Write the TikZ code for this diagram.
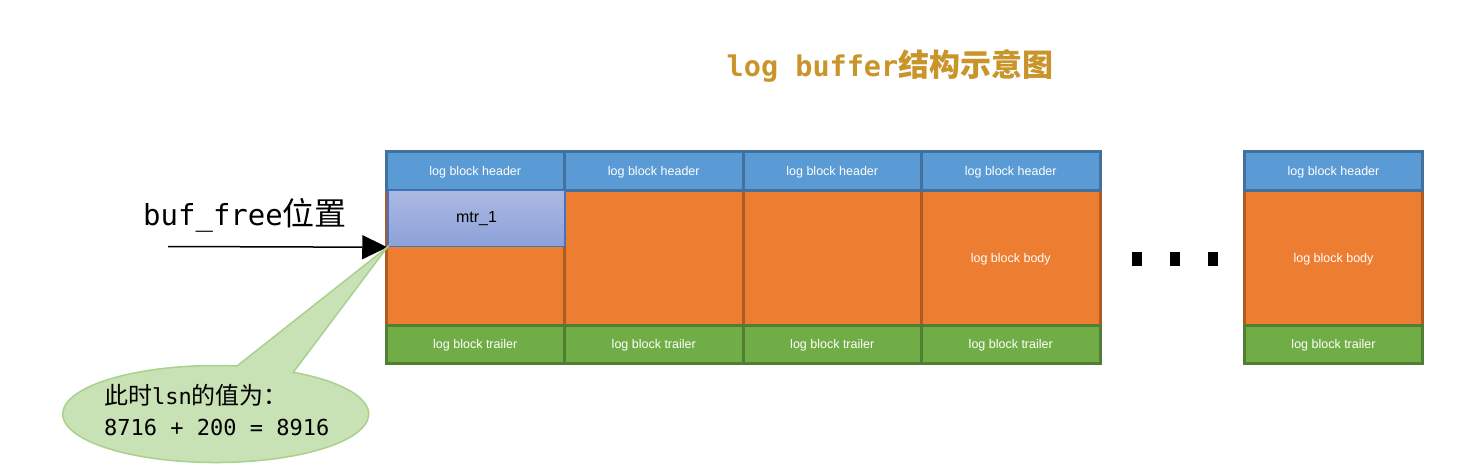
\documentclass[tikz,border=0pt]{standalone}
\usepackage{fontspec}
\setmainfont{Liberation Sans}
\newfontfamily\cjk{Noto Sans CJK SC}
\newfontfamily\mono{DejaVu Sans Mono}
\usetikzlibrary{arrows.meta,positioning}
\definecolor{hdrfill}{HTML}{5B9BD5}\definecolor{hdrline}{HTML}{41719C}
\definecolor{bodyfill}{HTML}{ED7D31}\definecolor{bodyline}{HTML}{AE5A21}
\definecolor{trlfill}{HTML}{70AD47}\definecolor{trlline}{HTML}{507E32}
\definecolor{mtrtop}{HTML}{ABB9E2}\definecolor{mtrbot}{HTML}{8DA1D9}\definecolor{mtrline}{HTML}{4472C4}
\definecolor{notefill}{HTML}{C8E2B6}\definecolor{noteline}{HTML}{A9D18E}
\definecolor{titlegold}{HTML}{C9952B}

\begin{document}
\begin{tikzpicture}[x=1pt,y=-1pt,
	cell/.style={draw,line width=3pt,inner sep=0pt,minimum width=178.5pt,text=white,text depth=0pt,font=\fontsize{12.5}{14}\selectfont},
	hdr/.style={cell,fill=hdrfill,draw=hdrline,minimum height=39pt},
	bdy/.style={cell,fill=bodyfill,draw=bodyline,minimum height=135pt},
	trl/.style={cell,fill=trlfill,draw=trlline,minimum height=38pt},
	dotbox/.style={fill=black,inner sep=0pt,minimum width=10pt,minimum height=14pt}]
			\useasboundingbox (0,0) rectangle (1470,474);
			
			% title
			\node[text=titlegold] (title) at (890,66) {\bfseries{\mono\fontsize{28.5}{30}\selectfont log buffer}{\cjk\fontsize{31}{32}\selectfont 结构示意图}};
			
			% log blocks
			\node[bdy] (b1) at (475.25,257.5) {}; \node[hdr] (h1) at (475.25,170.5) {log block header}; \node[trl] (t1) at (475.25,344) {log block trailer};
			\node[bdy] (b2) at (653.75,257.5) {}; \node[hdr] (h2) at (653.75,170.5) {log block header}; \node[trl] (t2) at (653.75,344) {log block trailer};
			\node[bdy] (b3) at (832.25,257.5) {}; \node[hdr] (h3) at (832.25,170.5) {log block header}; \node[trl] (t3) at (832.25,344) {log block trailer};
			\node[bdy] (b4) at (1010.75,257.5) {log block body}; \node[hdr] (h4) at (1010.75,170.5) {log block header}; \node[trl] (t4) at (1010.75,344) {log block trailer};
			\node[bdy] (bn) at (1333.5,257.5) {log block body}; \node[hdr] (hn) at (1333.5,170.5) {log block header}; \node[trl] (tn) at (1333.5,344) {log block trailer};
			
			% mtr_1 inside the first block body
			\node[draw=mtrline,line width=1.5pt,top color=mtrtop,bottom color=mtrbot,inner sep=0pt,minimum width=177pt,minimum height=56pt,font=\fontsize{16}{18}\selectfont] (mtr) at (476.5,218.5) {mtr\_1};
			
			\node[dotbox] (d1) at (1137,259) {}; \node[dotbox] (d2) at (1175,259) {}; \node[dotbox] (d3) at (1213,259) {};
			
			% buf_free
			\node[anchor=west,inner sep=0pt] (buf) at (143,215) {{\mono\fontsize{29}{30}\selectfont buf\_free}{\cjk\fontsize{32}{32}\selectfont 位置}};
			\coordinate (bufstart) at (168,246.5);
			\draw[line width=1.5pt,-{Triangle[length=25pt,width=24pt]}] (bufstart) -- (mtr.south west);
			
			% callout
			\coordinate (notea) at (237,366); \coordinate (noteb) at (293.7,371.2);
			\draw[fill=notefill,draw=noteline,line width=1.5pt] (notea) arc[start angle=82,end angle=419.5,x radius=153pt,y radius=48.5pt] -- (mtr.south west) -- cycle;
			\node[anchor=west,inner sep=0pt,align=left,font=\fontsize{24}{31}\selectfont] (note) at (104,410) {{\cjk 此时}{\mono\fontsize{22}{31}\selectfont lsn}{\cjk 的值为：}\\{\mono\fontsize{22}{31}\selectfont 8716 + 200 = 8916}};
\end{tikzpicture}
\end{document}
